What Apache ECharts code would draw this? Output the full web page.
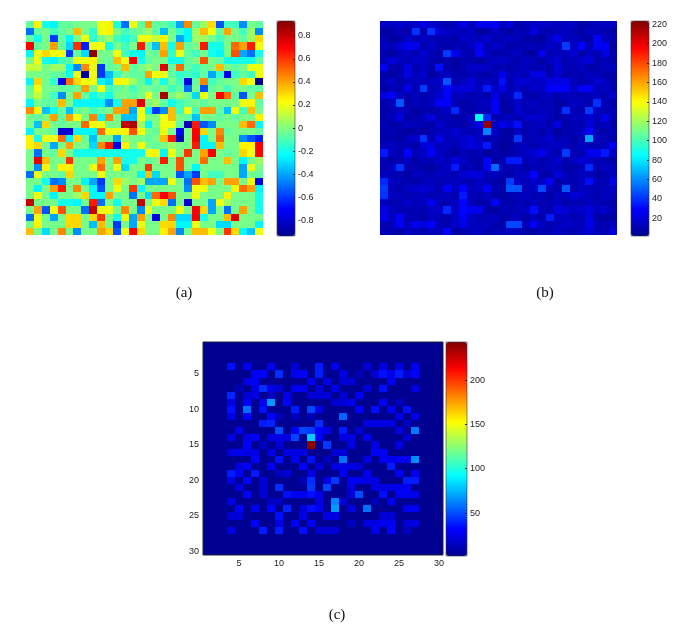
<!DOCTYPE html>
<html><head><meta charset="utf-8">
<style>html,body{margin:0;padding:0;background:#fff}#c{width:685px;height:630px;filter:blur(0.45px)}</style>
<script src="https://cdn.jsdelivr.net/npm/echarts@6/dist/echarts.min.js"></script>
</head><body><div id="c"></div>
<script>
const panelA = [
[-.06,.25,-.2,-.25,-.06,-.06,-.02,-.02,-.02,.2,.25,-.18,-.5,.2,-.06,.4,-.06,-.06,-.12,-.4,.45,-.06,.05,.3,-.55,-.12,-.12,-.45,-.02,-.06],
[-.5,-.06,-.02,-.12,-.06,-.02,.35,-.02,-.15,.2,.25,-.02,-.12,-.06,-.02,.05,-.06,-.35,-.02,-.15,-.25,.05,.35,.2,-.06,.4,-.02,-.12,.05,-.45],
[-.06,-.2,-.02,-.6,-.06,-.25,-.02,.2,-.15,-.02,.05,-.12,-.18,-.12,.2,.2,.12,.25,-.02,-.4,-.25,.05,.05,-.02,-.12,-.02,-.02,-.06,.05,.3],
[.7,-.06,-.02,.4,-.06,-.3,.6,-.65,.2,.2,-.2,-.02,-.12,-.02,.65,-.06,-.35,.35,-.2,.4,-.06,-.02,.65,-.2,-.2,-.02,.5,.4,.65,.2],
[-.25,.2,.3,.2,.2,-.6,-.06,-.3,.9,-.02,-.02,.2,-.12,-.2,-.25,-.02,-.06,.4,-.15,.2,-.06,-.12,-.02,-.2,-.25,-.02,.55,-.4,-.5,-.2],
[-.02,.2,-.2,-.25,-.12,-.06,.2,.2,.25,-.02,-.06,.35,.2,.7,-.2,-.06,-.02,-.02,-.2,-.2,-.06,-.02,.55,-.02,-.06,-.2,-.2,-.2,-.2,-.06],
[.12,.12,-.02,.05,.05,-.25,-.45,.45,.2,-.6,-.06,-.02,.35,-.06,-.02,.05,-.02,.75,-.06,.5,-.06,-.12,-.06,-.02,.35,-.02,-.06,-.02,.2,.2],
[-.02,-.02,-.02,-.06,-.06,-.2,.2,-.9,.2,-.6,-.35,-.12,-.02,-.06,-.06,.4,.2,.2,-.06,-.15,-.12,-.15,-.06,-.4,-.15,-.75,-.12,-.06,-.12,.2],
[-.25,.3,-.02,-.15,-.75,.5,.3,.2,.2,-.25,-.3,.25,.2,.05,-.06,-.25,-.02,-.2,-.02,-.12,-.75,-.06,.45,-.12,-.06,-.02,-.02,.3,.2,-.95],
[-.06,.2,-.02,-.02,-.06,-.06,-.02,.4,-.02,.2,-.12,-.06,-.02,-.12,-.02,-.02,-.06,-.02,-.12,-.06,-.5,-.02,-.55,-.06,-.02,-.12,-.02,-.02,-.06,-.06],
[-.02,.12,-.02,-.12,-.45,-.02,.4,-.06,-.2,-.12,-.2,-.02,-.02,-.06,-.02,.2,-.02,.85,-.02,.05,-.02,-.3,.2,-.02,.7,.5,-.06,-.55,-.02,.35],
[-.25,-.02,-.06,-.06,.35,-.02,-.25,-.25,-.25,-.25,-.45,-.2,.4,.4,.75,-.02,.05,-.06,-.2,-.12,-.06,-.02,-.06,-.02,-.02,-.02,-.02,.2,.25,-.06],
[.45,.25,-.35,-.2,-.06,-.35,-.06,-.02,-.12,-.06,-.02,.4,.4,-.4,.2,-.25,-.6,-.45,.35,-.12,.2,-.12,.4,.4,-.06,-.35,.2,-.12,.35,-.02],
[-.02,-.06,-.02,.4,-.06,.4,.2,-.02,.45,-.25,.45,-.02,-.35,-.35,.2,-.02,-.02,.2,.35,-.02,-.06,-.35,-.02,-.02,-.06,-.02,-.06,-.02,-.02,.25],
[-.02,-.35,.3,-.02,-.06,-.02,-.02,.5,.2,.2,-.02,-.02,.8,.85,.05,-.25,-.02,.2,.2,-.06,-.85,.65,-.55,-.45,-.02,-.02,-.02,.35,.5,-.25],
[-.25,-.02,-.02,-.06,-.8,-.8,-.25,-.25,-.25,.5,.2,.2,.25,.55,.2,-.02,-.06,.2,-.02,-.7,-.02,.7,.3,-.02,.45,-.06,-.02,-.02,-.02,-.06],
[.25,-.2,.2,.2,.5,-.25,.3,-.06,-.35,-.02,-.02,-.4,.05,-.02,-.02,-.06,-.02,.35,.65,-.85,-.02,.7,-.25,-.02,.5,-.02,-.02,-.45,-.55,-.65],
[.25,.3,-.02,-.4,-.02,.4,-.02,-.02,-.3,.45,.65,-.75,.25,-.02,.2,-.02,-.06,-.02,.05,-.02,-.02,.65,-.25,-.25,.35,-.02,-.02,.25,.25,.7],
[-.02,-.5,-.02,-.06,.3,-.02,-.2,-.2,-.2,-.2,-.2,-.2,-.2,-.2,-.2,.2,.25,-.25,.2,-.02,.6,-.02,.4,.7,-.02,-.06,-.02,.3,.2,.7],
[-.02,.75,.35,-.02,-.02,.6,-.02,-.02,-.02,.4,-.02,.4,-.2,-.2,-.02,-.06,-.02,.65,-.02,.55,-.02,-.02,.5,-.02,-.02,.35,-.02,-.25,-.02,.05],
[-.02,-.45,.25,-.02,.25,.25,-.02,-.02,.2,.5,-.02,.2,-.3,-.02,-.02,.6,-.02,-.02,-.02,.55,-.02,-.25,-.02,-.02,-.02,-.02,-.02,-.4,.2,-.02],
[-.5,.2,-.02,-.02,-.06,.3,-.02,-.02,-.02,.2,-.02,-.02,-.02,-.02,-.25,.35,-.3,-.02,-.02,-.55,-.4,-.6,-.02,-.12,-.12,-.02,-.02,-.4,-.02,-.06],
[-.02,-.02,-.2,-.5,-.45,-.02,-.02,-.25,-.4,-.6,-.02,.3,.05,-.02,.05,-.4,-.4,-.4,.2,-.02,-.5,.55,.35,.4,-.02,.4,.4,-.02,.2,-.75],
[-.02,-.25,-.02,.4,.65,-.02,.45,-.02,-.25,-.55,-.02,.2,-.02,.6,-.25,-.02,-.02,-.02,-.02,-.02,-.45,.2,.2,-.02,-.02,-.02,.2,.5,.4,-.25],
[-.02,.2,-.02,-.25,-.02,-.02,.05,.3,-.25,-.25,.4,-.02,-.02,-.5,-.02,-.3,.5,.7,.55,-.02,-.02,.2,-.02,-.02,-.02,.25,-.02,-.02,-.02,-.2],
[.8,-.02,-.02,-.02,-.2,-.2,-.25,-.02,.65,-.5,-.02,-.2,-.02,-.02,.8,-.02,.2,.3,-.5,-.02,-.8,-.02,-.02,-.4,.2,.05,-.02,-.02,-.02,-.2],
[-.02,.4,-.55,.2,.55,-.02,-.02,-.5,.8,.2,.2,-.02,.45,-.02,-.45,.2,-.02,-.02,-.02,.2,-.02,.7,.3,-.4,-.02,-.5,-.02,.4,-.02,-.2],
[-.5,.2,-.02,-.4,-.02,.3,.3,-.02,.3,.6,-.02,-.2,.2,-.4,.4,-.02,-.75,-.02,.45,-.3,-.3,.7,-.2,-.02,-.02,.35,.75,-.02,-.02,-.02],
[-.02,.25,-.02,-.02,-.02,.3,.3,-.02,-.35,.35,-.02,-.6,-.02,-.4,.2,-.02,-.02,.3,.3,-.25,-.25,.2,-.02,-.02,-.3,-.3,-.02,-.02,-.02,-.25],
[.35,-.02,-.3,-.02,.45,-.02,-.45,-.02,-.02,.4,.3,-.55,.2,.7,.3,-.02,-.02,.25,.4,-.45,-.02,.35,.35,.2,-.02,.6,.3,-.25,-.35,.2]
];
const panelB = [
[15,14,16,14,15,22,18,12,10,13,22,12,25,25,26,12,20,8,12,14,16,14,13,15,14,7,10,14,14,14],
[6,8,12,10,40,10,40,18,14,14,12,14,6,8,14,10,6,12,10,22,12,10,12,14,10,8,14,12,10,8],
[10,6,8,16,12,14,12,10,12,8,16,14,12,18,10,12,14,12,8,8,6,14,25,12,14,10,8,30,12,10],
[14,12,18,25,25,10,16,10,8,12,10,14,25,12,16,14,8,10,12,12,10,16,12,42,14,30,12,28,26,6],
[10,6,12,14,10,18,12,10,42,25,12,10,30,14,8,10,12,14,8,6,25,10,12,14,18,8,14,12,22,10],
[12,20,14,12,16,14,10,8,10,6,12,10,6,12,14,16,12,10,14,12,8,14,18,10,12,16,20,10,12,8],
[28,10,8,22,12,14,10,32,8,6,10,16,16,14,10,12,8,12,14,10,12,8,20,12,10,14,8,10,12,14],
[8,6,10,22,12,18,6,12,14,10,8,12,10,8,12,25,12,14,10,22,22,10,18,8,12,10,14,12,8,10],
[10,16,8,12,14,12,14,16,48,10,14,20,12,14,12,32,10,18,20,14,16,22,22,24,12,10,12,18,14,8],
[8,12,10,25,10,42,12,14,30,20,20,20,14,35,16,25,12,14,12,16,14,28,28,28,14,28,28,12,14,10],
[22,28,14,10,12,10,12,18,30,12,14,10,12,8,22,10,12,38,10,8,12,14,10,14,12,10,12,14,10,18],
[10,12,48,8,12,10,14,28,28,12,8,10,12,14,28,6,10,16,12,14,10,12,8,10,14,12,10,40,12,8],
[8,10,14,12,6,10,8,12,14,38,10,8,12,10,27,8,6,18,12,10,14,12,8,40,12,10,42,14,10,12],
[10,12,22,8,10,14,22,10,12,8,10,14,85,38,10,12,14,10,16,18,16,12,8,10,14,12,18,12,24,10],
[12,8,10,14,12,10,8,16,12,10,8,14,25,220,14,25,18,32,10,12,14,10,22,8,12,10,20,12,14,8],
[10,12,8,6,8,6,10,12,14,18,12,10,14,58,16,8,6,14,10,12,8,14,6,10,12,14,28,10,8,12],
[8,10,6,14,16,40,10,25,12,14,18,20,14,10,12,6,8,42,10,12,14,18,10,12,8,12,65,14,10,8],
[12,14,10,12,8,20,22,12,14,10,16,22,18,35,8,6,6,12,14,10,12,14,16,12,10,14,12,10,14,28],
[35,14,10,30,12,14,27,14,10,8,12,10,12,6,10,6,8,12,14,18,25,14,10,42,12,10,25,25,35,14],
[12,8,10,14,8,12,10,16,12,20,14,10,8,28,6,10,35,35,12,14,10,12,18,10,14,20,16,12,10,8],
[10,14,40,12,10,8,6,12,14,35,10,12,8,28,52,12,10,14,8,12,10,14,12,10,8,12,38,10,14,12],
[14,12,10,8,14,12,10,14,12,10,18,22,20,12,14,10,8,12,14,30,10,8,22,12,10,14,12,8,10,14],
[38,14,12,10,8,12,14,10,12,14,12,10,16,12,8,6,42,14,12,16,14,27,8,12,10,14,32,12,10,24],
[42,12,10,14,16,18,16,10,27,14,30,12,14,28,10,8,48,48,12,14,45,12,10,48,10,14,12,10,12,14],
[40,14,12,10,12,14,10,12,14,10,35,12,10,14,8,6,10,12,14,10,12,8,14,12,20,16,12,10,14,12],
[14,10,12,16,12,14,25,12,10,14,30,12,8,10,30,10,8,12,10,14,10,12,14,10,12,10,14,12,10,8],
[22,14,12,10,12,10,14,16,38,14,30,25,25,8,6,12,10,12,14,32,12,10,22,18,14,16,20,14,16,10],
[25,14,28,12,10,8,14,12,10,14,28,14,10,12,14,8,10,14,8,12,10,35,12,14,10,12,22,8,6,8],
[10,12,28,14,25,22,28,12,10,16,22,14,12,14,10,8,45,45,12,28,14,10,12,16,14,12,25,12,10,14],
[12,10,8,14,12,10,14,12,30,6,10,12,14,8,12,10,14,12,8,6,12,10,14,12,10,14,18,12,10,20]
];
const panelC = [
[2,2,2,2,2,2,2,2,2,2,2,2,2,2,2,2,2,2,2,2,2,2,2,2,2,2,2,2,2,2],
[2,2,2,2,2,2,2,2,2,2,2,2,2,2,2,2,2,2,2,2,2,2,2,2,2,2,2,2,2,2],
[2,2,2,2,2,2,2,2,2,2,2,2,2,2,2,2,2,2,2,2,2,2,2,2,2,2,2,2,2,2],
[2,2,2,35,2,28,2,2,30,2,2,20,2,2,38,2,28,2,2,2,20,2,24,2,24,2,28,2,2,2],
[2,2,2,2,2,2,30,32,2,42,2,28,32,2,38,2,2,24,2,12,2,20,35,24,38,20,32,2,2,2],
[2,2,2,2,2,24,30,2,2,2,2,2,2,28,2,24,2,20,20,2,2,2,2,28,2,2,2,2,2,2],
[2,2,2,2,12,2,24,42,24,20,2,28,28,2,20,2,28,2,2,2,20,2,35,2,2,2,24,2,2,2],
[2,2,2,40,2,20,24,2,15,2,24,2,2,20,20,20,2,20,2,30,2,2,2,2,2,2,2,2,2,2],
[2,2,2,24,2,30,2,28,68,2,32,2,2,2,2,2,20,20,28,2,2,2,30,2,15,2,2,2,2,2],
[2,2,2,35,2,58,2,35,2,2,2,38,2,48,24,2,2,2,2,30,2,35,2,28,2,35,2,2,2,2],
[2,2,2,24,2,30,2,2,32,12,2,15,2,12,2,2,2,55,2,2,2,2,2,2,24,2,24,2,2,2],
[2,2,2,2,2,2,2,38,40,2,2,2,2,2,42,2,2,2,2,2,24,24,24,24,2,15,2,2,2,2],
[2,2,2,2,28,2,2,2,2,50,2,30,48,45,30,24,2,38,2,20,2,2,2,2,24,2,60,2,2,2],
[2,2,2,24,2,24,32,2,24,24,24,48,2,80,30,2,2,24,24,2,30,2,2,2,2,20,2,2,2,2],
[2,2,2,2,2,30,2,15,2,20,2,2,2,240,2,45,2,2,24,2,2,24,2,2,24,2,2,2,2,2],
[2,2,2,24,28,24,24,2,24,2,24,24,24,2,2,2,20,20,2,2,2,30,30,2,2,2,2,2,2,2],
[2,2,2,2,2,2,32,2,2,35,2,28,2,35,2,15,2,58,2,2,24,2,28,28,28,28,65,2,2,2],
[2,2,2,2,24,32,2,2,30,2,2,2,32,2,20,2,24,24,24,20,2,2,2,38,2,2,2,2,2,2],
[2,2,2,38,28,2,38,2,2,15,20,2,2,24,2,2,2,30,2,2,28,2,2,2,30,2,28,2,2,2],
[2,2,2,24,2,32,2,20,2,2,2,2,12,42,2,24,45,2,28,28,24,24,2,2,2,38,38,2,2,2],
[2,2,2,2,24,2,2,20,2,42,2,2,2,45,2,48,2,2,24,2,2,24,24,24,28,28,2,2,2,2],
[2,2,2,2,2,32,2,20,2,2,35,28,28,35,24,2,2,2,20,50,2,2,35,2,28,28,28,2,2,2],
[2,2,2,24,2,2,2,2,15,15,2,2,2,2,24,2,62,20,2,2,2,12,2,28,2,2,2,2,2,2],
[2,2,2,2,32,2,28,2,32,2,40,2,20,35,28,2,68,2,24,2,58,2,2,2,2,28,28,2,2,2],
[2,2,2,20,20,2,2,2,2,35,2,2,24,2,2,24,24,2,2,2,2,2,20,20,2,2,2,2,2,2],
[2,2,2,2,2,2,32,2,2,24,2,30,2,30,2,2,2,2,15,2,24,24,28,30,2,20,24,2,2,2],
[2,2,2,24,2,2,2,38,2,38,2,2,35,2,20,20,20,2,2,2,2,28,2,32,2,15,2,2,2,2],
[2,2,2,2,2,2,2,2,2,2,2,2,2,2,2,2,2,2,2,2,2,2,2,2,2,2,2,2,2,2],
[2,2,2,2,2,2,2,2,2,2,2,2,2,2,2,2,2,2,2,2,2,2,2,2,2,2,2,2,2,2],
[2,2,2,2,2,2,2,2,2,2,2,2,2,2,2,2,2,2,2,2,2,2,2,2,2,2,2,2,2,2]
];
const cells = panelA[0].map((_, i) => i + 1);
const ticksA = [-0.8,-0.6,-0.4,-0.2,0,0.2,0.4,0.6,0.8];
const ticksB = [20,40,60,80,100,120,140,160,180,200,220];
const ticksC = [50,100,150,200];
const rangeA = [-0.935, 0.927];
const rangeB = [1.8, 223.4];
const rangeC = [1.5, 243];
const captions = ['(a)','(b)','(c)'];
const jet = ['#00008f','#0000ff','#0080ff','#00ffff','#80ff80','#ffff00','#ff8000','#ff0000','#800000'];

const panels = [
 {rows:panelA,range:rangeA,ticks:ticksA,map:[26,21,237,214],bar:[277,21,18,215],cap:[184,286],axes:false},
 {rows:panelB,range:rangeB,ticks:ticksB,map:[380,21,237,214],bar:[631,21,18,215],cap:[545,286],axes:false},
 {rows:panelC,range:rangeC,ticks:ticksC,map:[203,342,240,213],bar:[446,342,21,214],cap:[337,608],axes:true}
];
const labelFont = {fontFamily:'Liberation Sans',fontSize:9,color:'#222'};
function drawCell(params, api){
  const p = api.coord([api.value(0), api.value(1)]);
  const s = api.size([1,1]);
  const x0 = Math.round(p[0]-s[0]/2), x1 = Math.round(p[0]+s[0]/2);
  const y0 = Math.round(p[1]-s[1]/2), y1 = Math.round(p[1]+s[1]/2);
  return {type:'rect',shape:{x:x0,y:y0,width:x1-x0,height:y1-y0},style:{fill:api.visual('color')}};
}
const opt = {animation:false,grid:[],xAxis:[],yAxis:[],series:[],visualMap:[],title:[]};
panels.forEach((p,i)=>{
  const g = i*2;
  opt.grid.push({left:p.map[0],top:p.map[1],width:p.map[2],height:p.map[3],show:p.axes,borderColor:'#223',borderWidth:p.axes?1:0,z:3});
  opt.xAxis.push({gridIndex:g,type:'category',data:cells,show:p.axes,position:'bottom',
    axisLine:{onZero:false,show:false},splitLine:{show:false},
    axisTick:{alignWithLabel:true,inside:true,length:2,lineStyle:{color:'#223'},interval:(n,v)=>v%5===0},
    axisLabel:Object.assign({interval:(n,v)=>v%5===0,margin:4},labelFont),z:5});
  opt.yAxis.push({gridIndex:g,type:'category',data:cells,show:p.axes,inverse:true,
    axisLine:{onZero:false,show:false},splitLine:{show:false},
    axisTick:{alignWithLabel:true,inside:true,length:2,lineStyle:{color:'#223'},interval:(n,v)=>v%5===0},
    axisLabel:Object.assign({interval:(n,v)=>v%5===0,margin:4},labelFont),z:5});
  const data=[];
  p.rows.forEach((row,r)=>row.forEach((v,c)=>data.push([c,r,v])));
  opt.series.push({type:'custom',renderItem:drawCell,xAxisIndex:g,yAxisIndex:g,data,encode:{x:0,y:1},clip:true,progressive:0,silent:true});
  opt.visualMap.push({type:'continuous',seriesIndex:i,dimension:2,min:p.range[0],max:p.range[1],calculable:false,hoverLink:false,
    left:p.bar[0],top:p.bar[1],itemWidth:p.bar[2],itemHeight:p.bar[3],padding:0,inRange:{color:jet},text:null,z:4});
  opt.grid.push({left:p.bar[0],top:p.bar[1],width:p.bar[2],height:p.bar[3],show:true,backgroundColor:'transparent',borderColor:'#334',borderWidth:.6,z:6});
  opt.xAxis.push({gridIndex:g+1,type:'value',min:0,max:1,show:false});
  opt.yAxis.push({gridIndex:g+1,type:'value',min:p.range[0],max:p.range[1],position:'right',z:7,
    axisLine:{show:false,onZero:false},splitLine:{show:false},
    axisTick:{inside:true,length:2,lineStyle:{color:'#223'},customValues:p.ticks},
    axisLabel:Object.assign({customValues:p.ticks,margin:3,hideOverlap:false,showMinLabel:true,showMaxLabel:true},labelFont)});
  opt.title.push({text:captions[i],left:p.cap[0],top:p.cap[1],textAlign:'center',padding:0,
    textStyle:{fontFamily:'Liberation Serif',fontSize:15,fontWeight:'normal',color:'#111'}});
});
echarts.init(document.getElementById('c'),null,{renderer:'canvas'}).setOption(opt);
</script></body></html>
